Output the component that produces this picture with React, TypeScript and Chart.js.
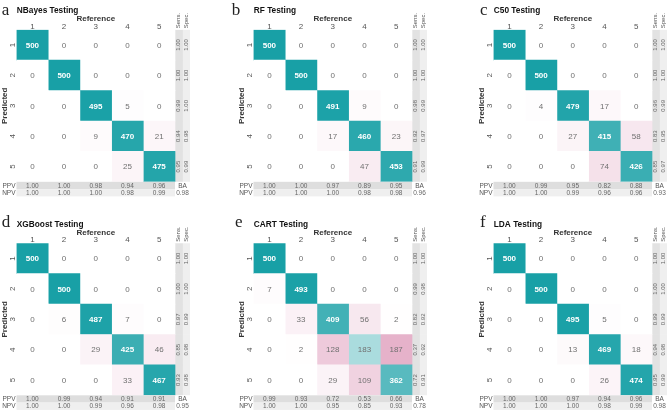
import React, { useEffect, useRef } from 'react';
import { Chart, registerables } from 'chart.js';
Chart.register(...registerables);

const classLabels = ['1', '2', '3', '4', '5'];

const nbayesMatrix = [
  [500, 0, 0, 0, 0],
  [0, 500, 0, 0, 0],
  [0, 0, 495, 5, 0],
  [0, 0, 9, 470, 21],
  [0, 0, 0, 25, 475],
];
const nbayesSens = ['1.00', '1.00', '0.99', '0.94', '0.95'];
const nbayesSpec = ['1.00', '1.00', '1.00', '0.98', '0.99'];
const nbayesPPV = ['1.00', '1.00', '0.98', '0.94', '0.96'];
const nbayesNPV = ['1.00', '1.00', '1.00', '0.98', '0.99'];
const nbayesBA = '0.98';

const rfMatrix = [
  [500, 0, 0, 0, 0],
  [0, 500, 0, 0, 0],
  [0, 0, 491, 9, 0],
  [0, 0, 17, 460, 23],
  [0, 0, 0, 47, 453],
];
const rfSens = ['1.00', '1.00', '0.98', '0.92', '0.91'];
const rfSpec = ['1.00', '1.00', '0.99', '0.97', '0.99'];
const rfPPV = ['1.00', '1.00', '0.97', '0.89', '0.95'];
const rfNPV = ['1.00', '1.00', '1.00', '0.98', '0.98'];
const rfBA = '0.96';

const c50Matrix = [
  [500, 0, 0, 0, 0],
  [0, 500, 0, 0, 0],
  [0, 4, 479, 17, 0],
  [0, 0, 27, 415, 58],
  [0, 0, 0, 74, 426],
];
const c50Sens = ['1.00', '1.00', '0.96', '0.83', '0.85'];
const c50Spec = ['1.00', '1.00', '0.99', '0.95', '0.97'];
const c50PPV = ['1.00', '0.99', '0.95', '0.82', '0.88'];
const c50NPV = ['1.00', '1.00', '0.99', '0.96', '0.96'];
const c50BA = '0.93';

const xgbMatrix = [
  [500, 0, 0, 0, 0],
  [0, 500, 0, 0, 0],
  [0, 6, 487, 7, 0],
  [0, 0, 29, 425, 46],
  [0, 0, 0, 33, 467],
];
const xgbSens = ['1.00', '1.00', '0.97', '0.85', '0.93'];
const xgbSpec = ['1.00', '1.00', '0.99', '0.98', '0.98'];
const xgbPPV = ['1.00', '0.99', '0.94', '0.91', '0.91'];
const xgbNPV = ['1.00', '1.00', '0.99', '0.96', '0.98'];
const xgbBA = '0.95';

const cartMatrix = [
  [500, 0, 0, 0, 0],
  [7, 493, 0, 0, 0],
  [0, 33, 409, 56, 2],
  [0, 2, 128, 183, 187],
  [0, 0, 29, 109, 362],
];
const cartSens = ['1.00', '0.99', '0.82', '0.37', '0.72'];
const cartSpec = ['1.00', '0.98', '0.92', '0.92', '0.91'];
const cartPPV = ['0.99', '0.93', '0.72', '0.53', '0.66'];
const cartNPV = ['1.00', '1.00', '0.95', '0.85', '0.93'];
const cartBA = '0.78';

const ldaMatrix = [
  [500, 0, 0, 0, 0],
  [0, 500, 0, 0, 0],
  [0, 0, 495, 5, 0],
  [0, 0, 13, 469, 18],
  [0, 0, 0, 26, 474],
];
const ldaSens = ['1.00', '1.00', '0.99', '0.94', '0.95'];
const ldaSpec = ['1.00', '1.00', '0.99', '0.98', '0.99'];
const ldaPPV = ['1.00', '1.00', '0.97', '0.94', '0.96'];
const ldaNPV = ['1.00', '1.00', '1.00', '0.98', '0.99'];
const ldaBA = '0.98';

const panelLetters = ['a', 'b', 'c', 'd', 'e', 'f'];
const panelTitles = ['NBayes Testing', 'RF Testing', 'C50 Testing', 'XGBoost Testing', 'CART Testing', 'LDA Testing'];

const models = [
  { matrix: nbayesMatrix, sens: nbayesSens, spec: nbayesSpec, ppv: nbayesPPV, npv: nbayesNPV, ba: nbayesBA },
  { matrix: rfMatrix, sens: rfSens, spec: rfSpec, ppv: rfPPV, npv: rfNPV, ba: rfBA },
  { matrix: c50Matrix, sens: c50Sens, spec: c50Spec, ppv: c50PPV, npv: c50NPV, ba: c50BA },
  { matrix: xgbMatrix, sens: xgbSens, spec: xgbSpec, ppv: xgbPPV, npv: xgbNPV, ba: xgbBA },
  { matrix: cartMatrix, sens: cartSens, spec: cartSpec, ppv: cartPPV, npv: cartNPV, ba: cartBA },
  { matrix: ldaMatrix, sens: ldaSens, spec: ldaSpec, ppv: ldaPPV, npv: ldaNPV, ba: ldaBA },
];

// layout (pixels)
const colX = [0, 222, 446];
const colW = [222, 224, 223];
const padLeft = [16.5, 31.5, 47.5];
const letterX = [[1.7, 9.7, 34], [1.7, 13, 34]];
const rowY = [0, 206];
const padTop = [29.8, 37.3];
const letterBase = [15, 20.5];
const PANEL_H = 206;
const MATRIX_W = 158.5;
const MATRIX_H = 152;
const SIDE_W = 0.2366; // width of Sens / Spec columns in cell units
const BAND_H = 7.3;

const TEAL = [24, 160, 166];
const PINK = [188, 49, 113];
const SANS = '"Liberation Sans", Arial, sans-serif';

function mix(c: number[], t: number) {
  const r = Math.round(255 + (c[0] - 255) * t);
  const g = Math.round(255 + (c[1] - 255) * t);
  const b = Math.round(255 + (c[2] - 255) * t);
  return `rgb(${r},${g},${b})`;
}

function makePlugin(idx: number, m: any, row: number, col: number) {
  return {
    id: 'decor' + idx,
    afterDatasetsDraw(chart: any) {
      const ctx = chart.ctx;
      const xs = chart.scales.x;
      const ys = chart.scales.y;
      const ca = chart.chartArea;
      const x0 = xs.getPixelForValue(0);
      const x5 = xs.getPixelForValue(5);
      const T = ca.top;
      const B = ca.bottom;
      const rowC = (r: number) => ys.getPixelForValue(r);
      const colC = (c: number) => xs.getPixelForValue(c + 0.5);
      ctx.save();

      // panel letter
      ctx.fillStyle = '#222';
      ctx.font = '17px "Liberation Serif", serif';
      ctx.textAlign = 'left';
      ctx.textBaseline = 'alphabetic';
      ctx.fillText(panelLetters[idx], letterX[row][col], letterBase[row]);

      // title
      ctx.fillStyle = '#111';
      ctx.font = `bold 8.3px ${SANS}`;
      ctx.fillText(panelTitles[idx], x0 + 0.3, T - 16.5);

      // Reference
      ctx.fillStyle = '#333';
      ctx.font = `bold 8px ${SANS}`;
      ctx.textAlign = 'center';
      ctx.fillText('Reference', (x0 + x5) / 2, T - 8.5);

      // column labels
      ctx.fillStyle = '#555';
      ctx.font = `8px ${SANS}`;
      classLabels.forEach((l, c) => ctx.fillText(l, colC(c), T - 1));

      // row labels (rotated)
      classLabels.forEach((l, r) => {
        ctx.save();
        ctx.translate(x0 - 4, rowC(r));
        ctx.rotate(-Math.PI / 2);
        ctx.textAlign = 'center';
        ctx.textBaseline = 'middle';
        ctx.fillStyle = '#555';
        ctx.font = `8px ${SANS}`;
        ctx.fillText(l, 0, 0);
        ctx.restore();
      });

      // Predicted
      ctx.save();
      ctx.translate(x0 - 11.5, (T + B) / 2);
      ctx.rotate(-Math.PI / 2);
      ctx.textAlign = 'center';
      ctx.textBaseline = 'middle';
      ctx.fillStyle = '#333';
      ctx.font = `bold 8px ${SANS}`;
      ctx.fillText('Predicted', 0, 0);
      ctx.restore();

      // cell values
      ctx.textAlign = 'center';
      ctx.textBaseline = 'middle';
      m.matrix.forEach((rowVals: number[], r: number) => {
        rowVals.forEach((v: number, c: number) => {
          if (r === c && v >= 250) {
            ctx.fillStyle = '#ffffff';
            ctx.font = `bold 8px ${SANS}`;
          } else {
            ctx.fillStyle = '#707070';
            ctx.font = `8px ${SANS}`;
          }
          ctx.fillText(String(v), colC(c), rowC(r) + 0.5);
        });
      });

      // Sens / Spec headers and values
      const sensX = xs.getPixelForValue(5 + SIDE_W / 2);
      const specX = xs.getPixelForValue(5 + SIDE_W * 1.5);
      const drawRot = (txt: string, x: number, y: number, align: CanvasTextAlign, color: string) => {
        ctx.save();
        ctx.translate(x, y);
        ctx.rotate(-Math.PI / 2);
        ctx.textAlign = align;
        ctx.textBaseline = 'middle';
        ctx.fillStyle = color;
        ctx.font = `6px ${SANS}`;
        ctx.fillText(txt, 0, 0);
        ctx.restore();
      };
      drawRot('Sens.', sensX, T - 1.5, 'left', '#555');
      drawRot('Spec.', specX, T - 1.5, 'left', '#555');
      for (let r = 0; r < 5; r++) {
        drawRot(m.sens[r], sensX, rowC(r), 'center', '#666');
        drawRot(m.spec[r], specX, rowC(r), 'center', '#666');
      }

      // PPV / NPV bands
      ctx.fillStyle = '#dedede';
      ctx.fillRect(x0, B, x5 - x0, BAND_H);
      ctx.fillStyle = '#efefef';
      ctx.fillRect(x0, B + BAND_H, x5 - x0, BAND_H);
      const ppvY = B + BAND_H / 2 + 0.3;
      const npvY = B + BAND_H * 1.5 + 0.3;
      ctx.font = `6.5px ${SANS}`;
      ctx.fillStyle = '#555';
      ctx.textAlign = 'right';
      ctx.fillText('PPV', x0 - 1, ppvY);
      ctx.fillText('NPV', x0 - 1, npvY);
      ctx.textAlign = 'center';
      ctx.fillStyle = '#666';
      for (let c = 0; c < 5; c++) {
        ctx.fillText(m.ppv[c], colC(c), ppvY);
        ctx.fillText(m.npv[c], colC(c), npvY);
      }
      const baX = xs.getPixelForValue(5 + SIDE_W);
      ctx.fillStyle = '#555';
      ctx.fillText('BA', baX, ppvY);
      ctx.fillStyle = '#666';
      ctx.fillText(m.ba, baX, npvY);

      ctx.restore();
    },
  };
}

function Panel({ idx }: { idx: number }) {
  const ref = useRef<HTMLCanvasElement>(null);
  const row = Math.floor(idx / 3);
  const col = idx % 3;
  const m = models[idx];
  useEffect(() => {
    if (!ref.current) return;
    const datasets: any[] = [];
    for (let c = 0; c < 5; c++) {
      datasets.push({
        label: 'Ref ' + classLabels[c],
        data: classLabels.map(() => [c, c + 1]),
        backgroundColor: m.matrix.map((rv: number[], r: number) =>
          r === c ? mix(TEAL, rv[c] / 500) : mix(PINK, rv[c] / 500)
        ),
        borderWidth: 0,
        grouped: false,
        barPercentage: 1,
        categoryPercentage: 1,
      });
    }
    datasets.push({
      label: 'Sens.',
      data: classLabels.map(() => [5, 5 + SIDE_W]),
      backgroundColor: '#e2e2e2',
      borderWidth: 0,
      grouped: false,
      barPercentage: 1,
      categoryPercentage: 1,
    });
    datasets.push({
      label: 'Spec.',
      data: classLabels.map(() => [5 + SIDE_W, 5 + 2 * SIDE_W]),
      backgroundColor: '#efefef',
      borderWidth: 0,
      grouped: false,
      barPercentage: 1,
      categoryPercentage: 1,
    });
    const L = padLeft[col];
    const T = padTop[row];
    const areaW = MATRIX_W * (5 + 2 * SIDE_W) / 5;
    const chart = new Chart(ref.current, {
      type: 'bar',
      data: { labels: classLabels, datasets },
      options: {
        indexAxis: 'y',
        responsive: false,
        animation: false,
        devicePixelRatio: 1,
        layout: {
          padding: {
            left: L,
            top: T,
            right: colW[col] - L - areaW,
            bottom: PANEL_H - T - MATRIX_H,
          },
        },
        scales: {
          x: { type: 'linear', min: 0, max: 5 + 2 * SIDE_W, display: false },
          y: { type: 'category', display: false, offset: true },
        },
        plugins: { legend: { display: false }, tooltip: { enabled: false } },
      } as any,
      plugins: [makePlugin(idx, m, row, col)],
    });
    return () => chart.destroy();
  }, []);
  return (
    <canvas
      ref={ref}
      width={colW[col]}
      height={PANEL_H}
      style={{ position: 'absolute', left: colX[col], top: rowY[row], width: colW[col], height: PANEL_H }}
    />
  );
}

export default function App() {
  return (
    <div style={{ position: 'absolute', left: 0, top: 0, width: 669, height: 412, overflow: 'hidden', background: '#fff' }}>
      {[0, 1, 2, 3, 4, 5].map((i) => (
        <Panel key={i} idx={i} />
      ))}
    </div>
  );
}
